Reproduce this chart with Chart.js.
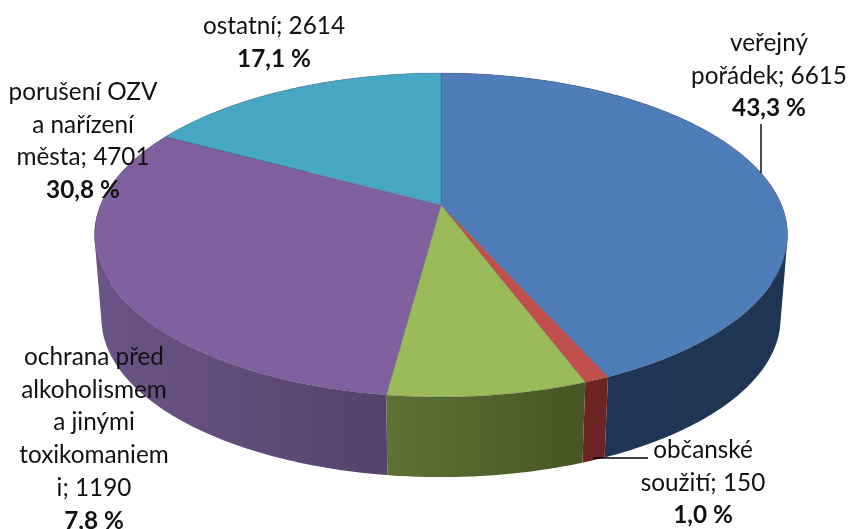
<!DOCTYPE html>
<html><head><meta charset="utf-8">
<style>html,body{margin:0;padding:0;background:#fff;overflow:hidden}canvas{display:block}</style>
<script src="https://cdn.jsdelivr.net/npm/chart.js@4/dist/chart.umd.js"></script>
</head><body><canvas id="c" width="848" height="529"></canvas>
<script>
const categories = ['veřejný pořádek','občanské soužití','ochrana před alkoholismem a jinými toxikomaniemi','porušení OZV a nařízení města','ostatní'];
const values = [6615,150,1190,4701,2614];
const labelLines = [['veřejný','pořádek; 6615'],['občanské','soužití; 150'],['ochrana před','alkoholismem','a jinými','toxikomaniem','i; 1190'],['porušení OZV','a nařízení','města; 4701'],['ostatní; 2614']];
const percents = ['43,3 %','1,0 %','7,8 %','30,8 %','17,1 %'];
const topColors = ['#4e7dba','#c14f4c','#9bba59','#7f61a0','#48a7c3'];
const wallStart = ['#1f3553','#6e2422','#465624','#54436b','#2d6d80'];
const wallEnd   = ['#20375a','#6e2422','#5e7234','#6b5488','#2d6d80'];

// placement of label blocks: centre x, first baseline
const labelPos = [[769,51],[703,458],[94,365],[83,100],[274,34]];
const lineStep = 32.7;
const leaders = [[761,124,761,173],[593,458,648,458]];

// projection of the unit disc to the tilted view
const VIEW = {sx:1.661, sy:0.763, k:-0.185, wallScale:0.98, wallDrop:84};

function project(el, theta, wall){
  const R = el.outerRadius, c = Math.cos(theta), s = Math.sin(theta), d = 1 + VIEW.k*s;
  const f = wall ? VIEW.wallScale : 1;
  return [el.x + f*VIEW.sx*R*c/d, el.y + (wall?VIEW.wallDrop:0) + f*VIEW.sy*R*s/d];
}
function arcPts(el, a0, a1, wall){
  const n = Math.max(2, Math.ceil(Math.abs(a1-a0)/0.01)), p = [];
  for(let i=0;i<=n;i++) p.push(project(el, a0+(a1-a0)*i/n, wall));
  return p;
}
function poly(ctx, pts){ ctx.beginPath(); pts.forEach((q,i)=> i?ctx.lineTo(q[0],q[1]):ctx.moveTo(q[0],q[1])); ctx.closePath(); }

class Arc3D extends Chart.ArcElement {
  static id = 'arc3d';
  drawWall(ctx, i){
    const top = arcPts(this,this.startAngle,this.endAngle,false);
    const low = arcPts(this,this.startAngle,this.endAngle,true);
    const xs = top.concat(low).map(q=>q[0]);
    const g = ctx.createLinearGradient(Math.max(...xs),0,Math.min(...xs),0);
    g.addColorStop(0,wallStart[i]); g.addColorStop(1,wallEnd[i]);
    ctx.save(); ctx.beginPath();
    for(let j=0;j<top.length-1;j++){
      let q=[top[j],top[j+1],low[j+1],low[j]];
      let area=0;
      for(let m=0;m<4;m++){const a=q[m],b=q[(m+1)%4];area+=a[0]*b[1]-b[0]*a[1];}
      if(area<0) q=q.reverse();
      q.forEach((p,m)=> m?ctx.lineTo(p[0],p[1]):ctx.moveTo(p[0],p[1]));
      ctx.closePath();
    }
    ctx.fillStyle=g; ctx.fill(); ctx.restore();
  }
  draw(ctx){
    const pts = [[this.x,this.y]].concat(arcPts(this,this.startAngle,this.endAngle,false));
    ctx.save(); poly(ctx,pts);
    ctx.fillStyle=this.options.backgroundColor; ctx.fill();
    ctx.strokeStyle='rgba(70,70,80,0.3)'; ctx.lineWidth=0.8; ctx.stroke();
    ctx.restore();
  }
}
class Pie3DController extends Chart.PieController {
  static id = 'pie3d';
  static defaults = {dataElementType:'arc3d'};
  draw(){
    const ctx=this.chart.ctx;
    this._cachedMeta.data.forEach((a,i)=>a.drawWall(ctx,i));
    super.draw();
  }
}
Chart.register(Arc3D, Pie3DController);

const labelPlugin = {
  id:'labels3d',
  afterDraw(chart){
    const ctx=chart.ctx; ctx.save();
    ctx.strokeStyle='#000'; ctx.lineWidth=1.4;
    leaders.forEach(l=>{ctx.beginPath();ctx.moveTo(l[0],l[1]);ctx.lineTo(l[2],l[3]);ctx.stroke();});
    ctx.fillStyle='#111'; ctx.textAlign='center'; ctx.textBaseline='alphabetic';
    labelLines.forEach((lines,i)=>{
      const [x,y]=labelPos[i];
      ctx.font='24.3px Lato';
      lines.forEach((t,j)=>ctx.fillText(t,x,y+j*lineStep));
      ctx.font='bold 24.3px Lato';
      ctx.fillText(percents[i],x,y+lines.length*lineStep);
    });
    ctx.restore();
  }
};

new Chart(document.getElementById('c'),{
  type:'pie3d',
  data:{labels:categories,datasets:[{data:values,backgroundColor:topColors,borderWidth:0}]},
  options:{responsive:false,animation:false,
    layout:{padding:{left:34,right:0,top:0,bottom:119}},
    plugins:{legend:{display:false},tooltip:{enabled:false}}},
  plugins:[labelPlugin]
});
</script></body></html>
